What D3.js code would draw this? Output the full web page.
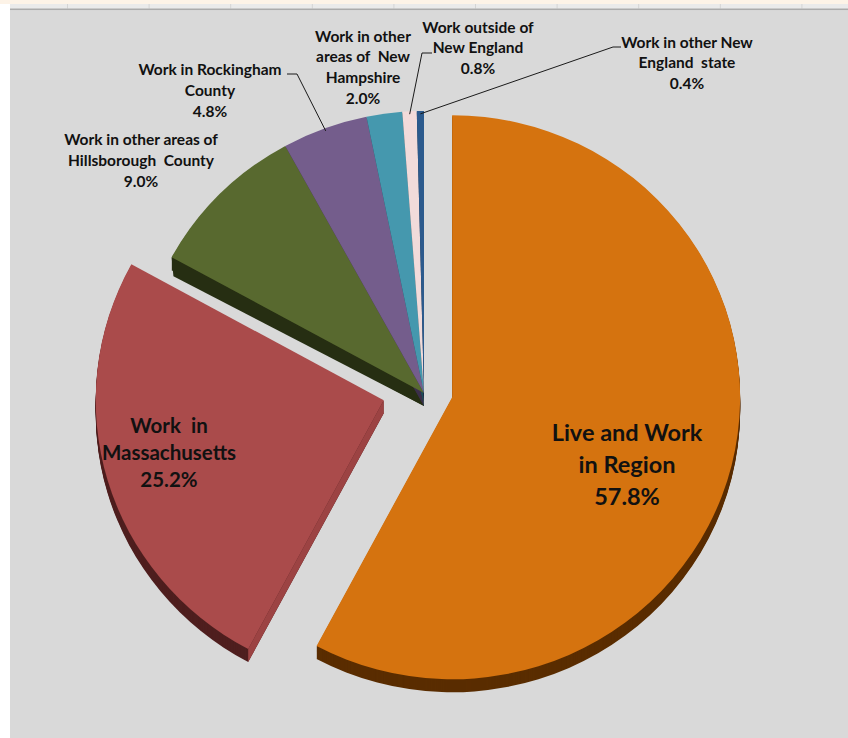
<!DOCTYPE html>
<html><head><meta charset="utf-8">
<script src="https://cdn.jsdelivr.net/npm/d3@7"></script>
<style>
body{margin:0;background:#fff}
svg{display:block}
text{font-family:Lato,"Open Sans",sans-serif;font-weight:700;fill:#111}
</style>
</head><body>
<svg id="c" width="848" height="738"></svg>
<script>
// ---- data ----
const categories = [
  "Live and Work in Region",
  "Work in Massachusetts",
  "Work in other areas of Hillsborough County",
  "Work in Rockingham County",
  "Work in other areas of New Hampshire",
  "Work outside of New England",
  "Work in other New England state"
];
const values = [57.8, 25.2, 9.0, 4.8, 2.0, 0.8, 0.4];
const labelLines = [
  ["Live and Work", "in Region"],
  ["Work  in", "Massachusetts"],
  ["Work in other areas of", "Hillsborough  County"],
  ["Work in Rockingham", "County"],
  ["Work in other", "areas of  New", "Hampshire"],
  ["Work outside of", "New England"],
  ["Work in other New", "England  state"]
];

// ---- styles / layout ----
const topColors  = ["#d5730f", "#aa4b4b", "#58692f", "#745d8c", "#4598ae", "#f1dbda", "#2c5a8d"];
const wallColors = ["#5a2d00", "#4f1f1f", "#262e12", "#3b2e4a", "#1f4c58", "#7a6c6c", "#15304a"];
const startWallColors = ["#5a2d00", "#9c4343", "#262e12", "#3b2e4a", "#1f4c58", "#7a6c6c", "#15304a"];
const startWallDepth = [13, 13, 19, 13, 13, 13, 13]; // outer end of radial wall (perspective)
const explode = [29, 42, 0, 0, 0, 0, 0];
const labelPos = [ // [cx, first-line center y, line spacing, font size]
  [627, 433, 32, 23.5],
  [169, 426, 27, 20.5],
  [141, 139, 21, 15.5],
  [210, 69, 21, 15.5],
  [363, 36, 20.7, 15.5],
  [478, 27, 20.5, 15.5],
  [687, 42, 20.7, 15.5]
];
const leaders = { // label-side points; slice end computed from pie
  3: [[287, 74], [297, 74]],
  5: [[432, 53], [422, 53]],
  6: [[621, 47], [613, 47]]
};
const cx = 424, cy = 393, rx = 288, ry = 282, depth = 13;
const k = ry / rx;

const svg = d3.select("#c");

// background (spreadsheet frame)
svg.append("rect").attr("width", 848).attr("height", 738).attr("fill", "#ffffff");
svg.append("rect").attr("x", 0).attr("y", 0).attr("width", 848).attr("height", 4).attr("fill", "#fdf3e7");
svg.append("rect").attr("x", 10).attr("y", 4).attr("width", 838).attr("height", 5).attr("fill", "#eaeaea");
svg.append("g").selectAll("line").data(d3.range(10)).join("line")
  .attr("x1", d => 67.5 + d * 81.6).attr("x2", d => 67.5 + d * 81.6)
  .attr("y1", 4).attr("y2", 8.5).attr("stroke", "#d4d4d4").attr("stroke-width", 1);
svg.append("rect").attr("x", 10).attr("y", 8.5).attr("width", 838).attr("height", 2).attr("fill", "#ababab");
svg.append("rect").attr("x", 10).attr("y", 10.5).attr("width", 838).attr("height", 728).attr("fill", "#d9d9d9");

// pie
const pie = d3.pie().sort(null).value(d => d).startAngle(0).endAngle(2 * Math.PI);
const arcs = pie(values);
const arc = d3.arc().innerRadius(0).outerRadius(rx);

function center(a, i) {
  const m = (a.startAngle + a.endAngle) / 2;
  return [cx + explode[i] * Math.sin(m), cy - explode[i] * Math.cos(m) * 0.6];
}
function pt(c, ang, r) {
  return [c[0] + r * Math.sin(ang), c[1] - r * k * Math.cos(ang)];
}

const sides = svg.append("g");
const tops = svg.append("g");

arcs.forEach((a, i) => {
  const c = center(a, i);
  for (let dz = depth; dz >= 1; dz--) {
    sides.append("path")
      .attr("d", arc(a))
      .attr("transform", `translate(${c[0]},${c[1] + dz}) scale(1,${k})`)
      .attr("fill", wallColors[i]);
  }
  const p = pt(c, a.startAngle, rx);
  const dd = startWallDepth[i];
  sides.append("path")
    .attr("d", d3.line()([c, p, [p[0] + (dd - depth) * 0.3, p[1] + dd], [c[0], c[1] + depth]]) + "Z")
    .attr("fill", startWallColors[i]);
});

arcs.forEach((a, i) => {
  const c = center(a, i);
  tops.append("path")
    .attr("d", arc(a))
    .attr("transform", `translate(${c[0]},${c[1]}) scale(1,${k})`)
    .attr("fill", topColors[i]);
});

// leader lines
Object.keys(leaders).forEach(key => {
  const i = +key, a = arcs[i];
  const c = center(a, i);
  const end = pt(c, (a.startAngle + a.endAngle) / 2, rx * 0.99);
  svg.append("path")
    .attr("d", d3.line()([...leaders[i], end]))
    .attr("fill", "none").attr("stroke", "#1a1a1a").attr("stroke-width", 1);
});

// labels
arcs.forEach((a, i) => {
  const [lx, ly, sp, fs] = labelPos[i];
  const lines = [...labelLines[i], d3.format(".1f")(values[i]) + "%"];
  const t = svg.append("text").attr("text-anchor", "middle").style("font-size", fs + "px");
  lines.forEach((s, j) => {
    t.append("tspan").attr("x", lx).attr("y", ly + j * sp + fs * 0.36).style("white-space", "pre").text(s);
  });
});
</script>
</body></html>
